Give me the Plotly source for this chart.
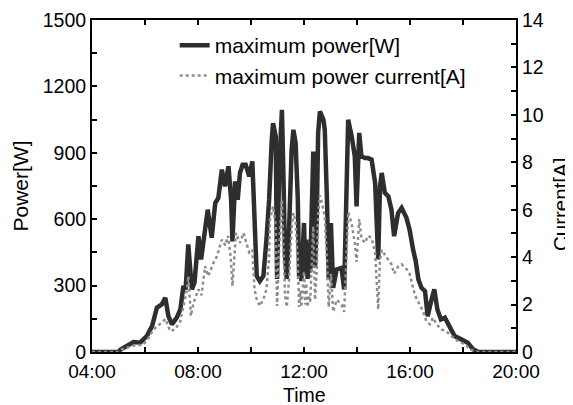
import plotly.graph_objects as go

# ---- data ----
power_times = ["04:00","05:00","05:04","05:20","05:34","05:49","06:04","06:16","06:27","06:38",
    "06:46","06:53","07:01","07:12","07:20","07:27","07:32","07:38","07:46","07:52",
    "08:01","08:07","08:13","08:22","08:31","08:39","08:46","08:54","09:01","09:09",
    "09:15","09:18","09:24","09:30","09:35","09:41","09:48","09:56","10:03","10:08",
    "10:13","10:20","10:28","10:35","10:41","10:47","10:50","10:56","10:59","11:04",
    "11:10","11:13","11:17","11:21","11:26","11:32","11:36","11:41","11:46","11:49",
    "11:52","11:54","11:57","12:00","12:03","12:05","12:08","12:11","12:14","12:17",
    "12:21","12:25","12:29","12:32","12:36","12:44","12:47","12:52","12:56","13:01",
    "13:06","13:14","13:25","13:31","13:37","13:40","13:48","13:55","13:59","14:05",
    "14:10","14:18","14:25","14:33","14:41","14:48","14:52","14:56","15:03","15:11",
    "15:18","15:24","15:33","15:41","15:52","15:59","16:07","16:13","16:19","16:26",
    "16:34","16:40","16:47","16:55","17:02","17:10","17:19","17:30","17:41","17:56",
    "18:11","18:23","18:35","20:00"]
power_w = [0,0,10,27,45,42,72,117,200,215,
    245,162,125,155,192,298,283,486,283,313,
    523,418,508,643,516,673,696,824,748,839,
    688,500,771,688,809,846,846,794,861,613,
    343,320,343,508,688,959,1034,974,330,839,
    1094,839,433,330,538,914,1004,944,688,330,
    450,320,480,583,350,508,330,420,360,688,
    906,380,613,989,1087,1049,1004,688,328,583,
    290,373,380,283,839,1049,974,884,658,990,
    884,876,876,869,765,418,748,809,719,703,
    643,523,628,651,606,553,463,410,328,290,
    275,162,223,283,192,147,155,110,72,57,
    42,12,0,0]

current_times = ["04:00","05:00","05:05","05:20","05:40","05:55","06:05","06:19","06:30","06:38",
    "06:46","06:57","07:08","07:20","07:27","07:35","07:38","07:44","07:50","08:01",
    "08:08","08:16","08:23","08:35","08:43","08:54","09:02","09:08","09:14","09:18",
    "09:26","09:35","09:43","09:48","09:56","10:03","10:08","10:13","10:20","10:28",
    "10:35","10:41","10:43","10:50","10:56","10:59","11:04","11:10","11:13","11:17",
    "11:21","11:26","11:32","11:36","11:41","11:46","11:49","11:52","11:54","11:57",
    "12:00","12:03","12:05","12:08","12:11","12:14","12:17","12:21","12:25","12:29",
    "12:32","12:36","12:44","12:47","12:52","12:56","13:01","13:06","13:14","13:25",
    "13:31","13:37","13:40","13:48","13:55","13:59","14:05","14:10","14:18","14:25",
    "14:33","14:41","14:48","14:52","14:56","15:03","15:11","15:18","15:24","15:33",
    "15:41","15:52","15:59","16:07","16:11","16:19","16:30","16:37","16:45","16:52",
    "17:00","17:11","17:22","17:34","17:49","18:04","18:18","18:35","20:00"]
current_a = [0,0,0.1,0.2,0.3,0.3,0.5,0.95,1.1,1.24,
    1.4,0.88,0.95,1.3,1.94,2.64,3.2,1.52,2.08,2.64,
    2.4,3.62,3.2,3.76,4.04,4.74,4.5,4.9,4.0,2.78,
    5.02,4.6,5.02,4.74,4.2,4.32,2.64,2.22,1.94,2.22,
    2.64,4.0,5.58,6.14,5.3,1.94,4.5,6.42,4.8,2.4,
    1.9,3.0,5.2,5.86,5.5,3.9,1.9,2.6,1.9,2.8,
    3.4,2.0,2.9,1.9,2.4,2.1,3.9,5.3,2.2,3.5,
    5.8,6.6,6.0,5.7,3.9,1.9,3.3,1.7,2.2,2.0,
    1.7,5.0,5.9,5.4,4.6,3.8,5.6,4.8,4.6,4.9,
    4.8,4.2,1.8,3.9,4.3,4.1,3.9,3.7,3.3,3.6,
    3.7,3.5,3.3,2.7,2.4,2.1,1.7,1.3,1.17,1.45,
    1.17,0.95,0.88,0.67,0.46,0.32,0.1,0,0]

x_tick_vals = [4, 8, 12, 16, 20]
x_tick_labels = ["04:00", "08:00", "12:00", "16:00", "20:00"]
power_ticks = [0, 300, 600, 900, 1200, 1500]
current_ticks = [0, 2, 4, 6, 8, 10, 12, 14]


def to_hours(t):
    h, m = t.split(":")
    return int(h) + int(m) / 60.0


px = [to_hours(t) for t in power_times]
cx = [to_hours(t) for t in current_times]

FONT = "Liberation Sans, Arial, sans-serif"
# the page body has an 8px default margin; size the figure so it fits the 573x405 window
OFF = 8
W, H = 573 - OFF, 405 - OFF
L, R, T, B = 84, 57, 12, 53
PLOT_W = W - L - R
PLOT_H = H - T - B
PLOT_LEFT_PAGE = OFF + L
PLOT_BOTTOM_PAGE = OFF + H - B

fig = go.Figure()
fig.add_trace(go.Scatter(
    x=px, y=power_w, mode="lines", name="maximum power[W]",
    line=dict(color="#2e2e2e", width=4.5), legendgroup="a"))
fig.add_trace(go.Scatter(
    x=cx, y=current_a, mode="lines", name="maximum power current[A]",
    line=dict(color="#8c8c8c", width=2.5, dash="dot"), yaxis="y2", legendgroup="b"))

axis_common = dict(showgrid=False, zeroline=False, showline=True, linecolor="black",
                   linewidth=2, ticks="inside", ticklen=5, tickwidth=1.5, tickcolor="black",
                   automargin=False)

fig.update_layout(
    width=W, height=H,
    margin=dict(l=L, r=R, t=T, b=B, autoexpand=False),
    paper_bgcolor="white", plot_bgcolor="white",
    font=dict(family=FONT, color="black"),
    showlegend=True,
    legend=dict(x=0.195, y=0.985, xanchor="left", yanchor="top",
                bgcolor="rgba(0,0,0,0)", font=dict(size=21, color="black", family=FONT),
                traceorder="grouped", tracegroupgap=0),
    xaxis=dict(range=[4, 20], tickvals=x_tick_vals, ticktext=x_tick_labels,
               mirror="ticks", ticklabelstandoff=1,
               tickfont=dict(size=19, color="black", family=FONT),
               minor=dict(dtick=2, tick0=4, ticks="inside", ticklen=5, tickwidth=1.5, tickcolor="black"),
               **axis_common),
    yaxis=dict(range=[0, 1500], tickvals=power_ticks,
               tickfont=dict(size=19.5, color="black", family=FONT),
               minor=dict(dtick=150, tick0=0, ticks="inside", ticklen=5, tickwidth=1.5, tickcolor="black"),
               title=dict(text="Power[W]", font=dict(size=21, family=FONT), standoff=8),
               **axis_common),
    yaxis2=dict(range=[0, 14], tickvals=current_ticks, overlaying="y", side="right",
                tickfont=dict(size=19.5, color="black", family=FONT),
                minor=dict(dtick=1, tick0=0, ticks="inside", ticklen=5, tickwidth=1.5, tickcolor="black"),
                **axis_common),
    annotations=[
        dict(text="Time", xref="paper", yref="paper", x=0.5,
             y=(PLOT_BOTTOM_PAGE - 394.5) / PLOT_H, xanchor="center", yanchor="middle",
             showarrow=False, font=dict(size=19.5, color="black", family=FONT)),
        dict(text="Current[A]", xref="paper", yref="paper",
             x=(560 - PLOT_LEFT_PAGE) / PLOT_W, y=(PLOT_BOTTOM_PAGE - 205) / PLOT_H,
             textangle=-90, xanchor="center", yanchor="middle", showarrow=False,
             font=dict(size=20.5, color="black", family=FONT)),
    ],
)

fig.write_html("out.html")
